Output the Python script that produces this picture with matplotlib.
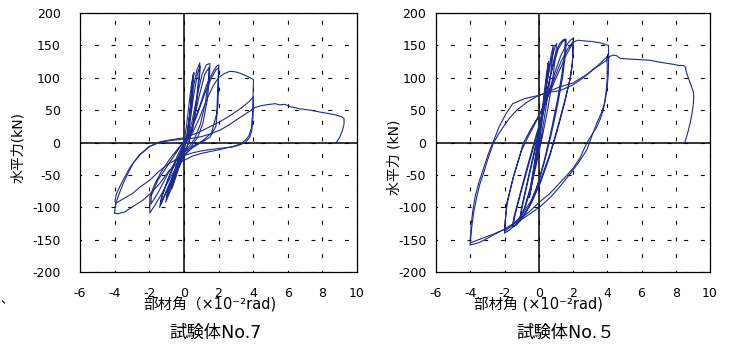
import numpy as np
import matplotlib
matplotlib.use('Agg')
import matplotlib.pyplot as plt

plt.rcParams['font.family'] = ['DejaVu Sans', 'Noto Sans CJK JP']
plt.rcParams['axes.unicode_minus'] = False

# ---- 試験体No.7 (左) : 部材角 x (10^-2 rad), 水平力 y (kN)
n7_x1 = [0.0, 0.15, 0.3, 0.45, 0.55, 0.5, 0.38, 0.22, 0.05, -0.2, -0.45, -0.7, -0.62, -0.35, -0.05, 0.2,
         0.35, 0.5, 0.58, 0.52, 0.35, 0.15, -0.1, -0.4, -0.72, -0.6, -0.3, 0.05, 0.2]
n7_y1 = [0, 25, 60, 92, 106, 95, 55, 15, -8, -30, -52, -72, -58, -30, -5, 10,
         45, 88, 108, 92, 45, 8, -15, -40, -70, -55, -25, 0, 8]
n7_x2 = [0.2, 0.35, 0.55, 0.75, 0.92, 0.88, 0.7, 0.5, 0.3, 0.05, -0.3, -0.7, -1.05, -0.95, -0.6, -0.25, 0.1,
         0.3, 0.55, 0.8, 0.95, 0.9, 0.72, 0.5, 0.25, -0.1, -0.5, -1.0, -0.9, -0.55, -0.15, 0.2]
n7_y2 = [8, 40, 85, 112, 123, 105, 60, 25, 2, -15, -40, -70, -92, -78, -50, -22, 0,
         20, 70, 108, 118, 100, 55, 18, -2, -22, -50, -85, -72, -45, -12, 6]
n7_x3 = [0.2, 0.45, 0.75, 1.05, 1.3, 1.5, 1.48, 1.35, 1.1, 0.8, 0.45, 0.1, -0.3, -0.8, -1.2, -1.4, -1.3, -0.95,
         -0.5, -0.05, 0.25, 0.5, 0.85, 1.2, 1.45, 1.42, 1.25, 0.95, 0.6, 0.25, -0.2, -0.7, -1.1, -1.35, -1.25,
         -0.9, -0.45, 0.0, 0.2]
n7_y3 = [6, 30, 70, 105, 120, 122, 100, 65, 30, 8, -5, -18, -38, -65, -88, -100, -85, -60,
         -32, -8, 5, 25, 68, 105, 116, 98, 62, 28, 5, -8, -25, -55, -80, -96, -82,
         -55, -25, 0, 7]
n7_x4 = [0.2, 0.5, 0.9, 1.3, 1.7, 1.9, 2.02, 2.0, 1.97, 1.85, 1.5, 1.0, 0.5, 0.1, -0.3, -0.8, -1.3, -1.7, -1.97,
         -1.97, -1.7, -1.3, -0.8, -0.3, 0.1, 0.4, 0.8, 1.2, 1.6, 1.85, 2.0, 1.98, 1.9, 1.6, 1.1, 0.5, 0.0,
         -0.5, -1.0, -1.5, -1.9, -1.88, -1.5, -1.0, -0.5, -0.1, 0.2]
n7_y4 = [7, 25, 55, 88, 110, 118, 120, 100, 60, 25, 8, 0, -8, -18, -32, -55, -80, -98, -109,
         -84, -65, -45, -25, -8, 5, 18, 45, 75, 100, 112, 115, 95, 45, 15, 3, -6, -15,
         -30, -52, -78, -95, -82, -58, -38, -18, -2, 5]
n7_x5 = [0.2, 0.5, 0.9, 1.3, 1.7, 2.0, 2.3, 2.66, 3.0, 3.24, 3.6, 3.9, 4.02, 4.0, 3.97, 3.9, 3.75, 3.5, 3.2,
         2.85, 2.5, 2.08, 1.5, 1.0, 0.5, 0.05, -0.42, -0.9, -1.39, -1.9, -2.36, -2.95, -3.4, -3.8, -4.0]
n7_y5 = [5, 15, 38, 65, 88, 100, 106, 110, 109, 107, 103, 99, 97, 75, 45, 22, 10, 2, -3,
         -6, -8, -11, -14, -17, -21, -27, -33, -45, -63, -78, -89, -99, -107, -110, -109]
n7_x6 = [-4.0, -3.97, -3.9, -3.75, -3.5, -3.2, -2.93, -2.5, -1.96, -1.39, -0.8, -0.05, 0.3, 0.8, 1.4, 2.08,
         2.7, 3.3, 3.8, 4.0]
n7_y6 = [-109, -100, -92, -80, -63, -46, -32, -18, -6, 1, 4, 7, 10, 15, 23, 32,
         42, 53, 64, 70]
n7_x7 = [4.0, 4.02, 3.98, 3.92, 3.8, 3.55, 3.2, 2.8, 2.08, 1.5, 1.0, 0.5, 0.0, -0.5, -1.0, -1.5, -1.96, -2.5,
         -2.93, -3.5, -3.95, -3.98, -3.9, -3.7, -3.45, -3.1, -2.6, -2.0, -1.4, -0.8, -0.1, 0.4, 1.0, 1.5,
         2.08, 2.6, 3.2, 3.9]
n7_y7 = [70, 55, 35, 18, 8, 0, -4, -7, -9, -11, -13, -16, -20, -27, -35, -46, -58, -68,
         -78, -87, -94, -90, -80, -68, -55, -38, -20, -6, 0, 3, 5, 6, 9, 13,
         19, 27, 38, 50]
n7_x8 = [3.9, 4.1, 4.5, 4.97, 5.3, 5.5, 5.8, 6.2, 6.7, 7.3, 7.86, 8.3, 8.7, 9.1, 9.25, 9.25, 9.15, 9.0, 8.8]
n7_y8 = [50, 54, 57, 59, 60, 58, 59, 55, 52, 50, 47, 45, 43, 40, 37, 28, 18, 8, 0]

# ---- 試験体No.5 (右)
n5_x1 = [0, 0.15, 0.3, 0.45, 0.55, 0.5, 0.35, 0.15, -0.05, -0.25, -0.45, -0.55, -0.45, -0.25, -0.05, 0.1,
         0.3, 0.5, 0.57, 0.5, 0.3, 0.1, -0.15, -0.4, -0.57, -0.45, -0.2, 0.05]
n5_y1 = [0, 35, 72, 105, 122, 110, 75, 35, 0, -35, -68, -85, -72, -40, -8, 18,
         60, 105, 125, 105, 65, 25, -15, -55, -85, -70, -30, 5]
n5_x2 = [0.05, 0.25, 0.5, 0.7, 0.85, 0.82, 0.65, 0.4, 0.15, -0.15, -0.5, -0.85, -1.1, -1.0, -0.75, -0.45,
         -0.15, 0.15, 0.45, 0.75, 0.95, 1.05, 1.0, 0.8, 0.5, 0.2, -0.15, -0.5, -0.85, -1.1, -0.95, -0.65,
         -0.3, 0.0]
n5_y2 = [5, 45, 95, 132, 150, 135, 95, 50, 10, -30, -70, -102, -118, -100, -70, -35,
         0, 40, 90, 130, 148, 153, 138, 95, 48, 8, -35, -75, -105, -118, -98, -62,
         -22, 10]
n5_x3 = [0.0, 0.3, 0.65, 0.95, 1.2, 1.4, 1.55, 1.52, 1.35, 1.05, 0.7, 0.3, -0.1, -0.55, -1.0, -1.35, -1.55,
         -1.45, -1.15, -0.8, -0.4, 0.0, 0.4, 0.8, 1.15, 1.4, 1.6, 1.57, 1.4, 1.1, 0.75, 0.35, -0.05, -0.5,
         -0.95, -1.3, -1.5, -1.38, -1.05, -0.65, -0.25, 0.1]
n5_y3 = [10, 50, 100, 135, 152, 158, 160, 140, 105, 60, 15, -30, -68, -98, -118, -128, -131,
         -115, -85, -50, -12, 25, 70, 115, 145, 156, 159, 140, 102, 58, 15, -28, -65, -97,
         -117, -127, -130, -112, -78, -40, -2, 30]
n5_x4 = [0.1, 0.5, 0.9, 1.3, 1.6, 1.85, 2.0, 2.0, 1.95, 1.8, 1.5, 1.1, 0.6, 0.1, -0.4, -0.9, -1.4, -1.75,
         -2.0, -1.98, -1.87, -1.48, -0.9, -0.5, 0.08, 0.7, 1.3, 1.7, 1.95, 2.0, 1.97, 1.85, 1.55, 1.15, 0.65,
         0.1, -0.45, -1.0, -1.5, -1.97, -1.95, -1.85, -1.5, -1.0, -0.6, -0.1, 0.5, 1.1, 1.6, 2.02]
n5_y4 = [30, 70, 105, 135, 150, 158, 161, 140, 118, 95, 60, 20, -25, -62, -92, -113, -128, -136,
         -140, -128, -94, -53, -1, 19, 45, 85, 125, 145, 154, 150, 125, 100, 68, 28, -18,
         -58, -90, -112, -127, -137, -120, -95, -55, -12, 10, 35, 68, 105, 135, 155]
n5_x5 = [2.02, 2.3, 2.6, 3.1, 3.58, 4.07, 4.08, 4.06, 4.0, 3.9, 3.77, 3.6, 3.39, 3.1, 2.8, 2.41, 2.0, 1.6,
         1.24, 0.6, 0.04, -0.6, -1.2, -1.87, -2.6, -3.0, -3.43, -3.8, -4.01]
n5_y5 = [155, 158, 157, 156, 154, 150, 130, 105, 86, 68, 50, 37, 24, 12, -1, -24, -40, -52,
         -62, -80, -92, -108, -120, -132, -142, -148, -154, -157, -158]
n5_x6 = [-4.01, -3.98, -3.91, -3.8, -3.62, -3.45, -3.23, -2.95, -2.65, -2.35, -2.07, -1.7, -1.28, -0.7,
         -0.12, 0.5, 1.24, 2.0, 2.8, 3.5, 3.97]
n5_y6 = [-158, -150, -130, -108, -84, -65, -48, -24, -1, 13, 24, 38, 50, 62,
         71, 78, 86, 92, 105, 120, 132]
n5_x7 = [3.97, 4.0, 4.0, 3.95, 3.85, 3.65, 3.39, 3.1, 2.8, 2.4, 2.02, 1.6, 1.24, 0.7, 0.08, -0.5, -1.09, -1.6,
         -2.07, -2.7, -3.3, -3.7, -3.98, -4.0, -3.95, -3.85, -3.7, -3.5, -3.25, -2.95, -2.6, -2.3, -1.9,
         -1.52, -0.8, 0.04, 0.7, 1.24, 2.0, 2.6, 3.3, 3.97]
n5_y7 = [132, 120, 100, 82, 62, 45, 30, 10, -11.6, -28, -42, -56, -68, -84, -99, -110, -120, -128,
         -135, -142, -148, -152, -155, -150, -128, -105, -82, -62, -42, -18, 5, 25, 45,
         60, 68, 73, 78, 80, 89, 100, 115, 127]
n5_x8 = [3.97, 4.15, 4.36, 4.55, 4.75, 5.2, 5.9, 6.5, 7.08, 7.8, 8.2, 8.45, 8.55, 8.64, 8.8, 9.03, 9.05,
         9.03, 8.95, 8.84, 8.7, 8.54]
n5_y8 = [127, 133, 135, 134, 130, 129, 128, 127, 124, 121, 119, 119, 117, 107, 95, 78, 70,
         60, 45, 30, 15, 1]

n7_segs = [(n7_x1, n7_y1), (n7_x2, n7_y2), (n7_x3, n7_y3), (n7_x4, n7_y4),
           (n7_x5, n7_y5), (n7_x6, n7_y6), (n7_x7, n7_y7), (n7_x8, n7_y8)]
n5_segs = [(n5_x1, n5_y1), (n5_x2, n5_y2), (n5_x3, n5_y3), (n5_x4, n5_y4),
           (n5_x5, n5_y5), (n5_x6, n5_y6), (n5_x7, n5_y7), (n5_x8, n5_y8)]

x_ticks = [-6, -4, -2, 0, 2, 4, 6, 8, 10]
y_ticks = [-200, -150, -100, -50, 0, 50, 100, 150, 200]
line_color = '#1e2a8c'

fig = plt.figure(figsize=(7.32, 3.49), dpi=100)
W, H = 732, 349


def make_ax(left_px, right_px, ypad):
    ax = fig.add_axes([left_px / W, (H - 272) / H, (right_px - left_px) / W, 259 / H])
    ax.set_xlim(-6, 10)
    ax.set_ylim(-200, 200)
    ax.set_xticks(x_ticks)
    ax.set_yticks(y_ticks)
    ax.tick_params(length=0, labelsize=9, colors='black')
    ax.tick_params(axis='x', pad=11)
    ax.tick_params(axis='y', pad=ypad)
    ax.grid(True, color='black', linewidth=0.8, linestyle=(2, (3.5, 11.5)))
    ax.axhline(0, color='black', linewidth=1.1, zorder=2)
    ax.axvline(0, color='black', linewidth=1.1, zorder=2)
    for s in ax.spines.values():
        s.set_linewidth(0.9)
    return ax


ax1 = make_ax(80, 357, 14)
for xs, ys in n7_segs:
    ax1.plot(xs, ys, color=line_color, linewidth=0.8, zorder=3)

ax2 = make_ax(436, 710, 7)
for xs, ys in n5_segs:
    ax2.plot(xs, ys, color=line_color, linewidth=0.8, zorder=3)

# 軸ラベル・タイトル
fig.text(18 / W, 1 - 147 / H, '水平力(kN)', rotation=90, ha='center', va='center', fontsize=10)
fig.text(394 / W, 1 - 157 / H, '水平力 (kN)', rotation=90, ha='center', va='center', fontsize=10)
fig.text(210 / W, 1 - 305 / H, '部材角（×10⁻²rad)', ha='center', va='center', fontsize=10.5)
fig.text(538 / W, 1 - 305 / H, '部材角 (×10⁻²rad)', ha='center', va='center', fontsize=10.5)
fig.text(215 / W, 1 - 333 / H, '試験体No.7', ha='center', va='center', fontsize=12.5)
fig.text(566 / W, 1 - 333 / H, '試験体No.５', ha='center', va='center', fontsize=12.5)
fig.text(7 / W, 1 - 300 / H, '、', ha='center', va='center', fontsize=9)

plt.savefig('out.png', dpi=100)
